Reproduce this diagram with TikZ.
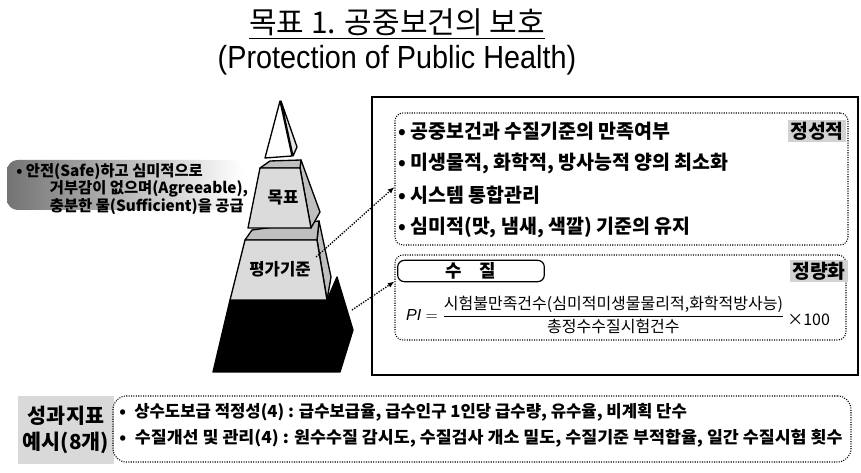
\documentclass[tikz,border=0pt]{standalone}
\usepackage{amsmath}
\usepackage{fontspec}
\setmainfont{Liberation Sans}
\newfontfamily\kr{Noto Sans CJK KR}
\newfontfamily\krb{Noto Sans CJK KR Black}
\usetikzlibrary{positioning, fit, arrows.meta}
\tikzset{x=0.75pt, y=-0.75pt, % one unit is one pixel, y runs downwards
face/.style={ % faces of the pyramid
draw, line width=1pt, line join=round, fill=gray!28},
side/.style={face, fill=gray!50},
dotbox/.style={draw, densely dotted, line width=0.8pt, rounded corners=6pt, inner sep=0pt},
tag/.style={fill=gray!35, inner sep=1.5pt, font=\krb\fontsize{14.5}{14.5}\selectfont},
item/.style={anchor=west, inner sep=0pt, font=\krb\fontsize{14.6}{16}\selectfont},
link/.style={draw, densely dotted, line width=1pt, -{Latex[length=5pt,width=4pt]}}}

\begin{document}
\begin{tikzpicture}
    \useasboundingbox (0,0) rectangle (861,473);

    % heading
    \node[inner sep=0, font=\kr\fontsize{22.5}{22.5}\selectfont] (title) at (397,22) {목표 1. 공중보건의 보호};
    \draw[line width=1pt] ([yshift=-4pt]title.base west) -- ([yshift=-4pt]title.base east);
    \node[inner sep=0, font=\fontsize{24}{24}\selectfont] (sub) at (397,60) {\scalebox{0.9}[1]{(Protection of Public Health)}};

    % pyramid
    \draw[side, fill=gray!20] (281,101) -- (297,147) -- (293,156) -- cycle;
    \draw[face, fill=white] (280,101) -- (292,156) -- (265,158) -- cycle;
    \draw[face, fill=black] (230,300) -- (327,300) -- (337,277) -- (353,330) -- (340,372) -- (213,372) -- cycle;
    \draw[side] (317,240) -- (319,221) -- (331,277) -- (327,300) -- cycle;
    \draw[side] (245,240) -- (252,230) -- (319,221) -- (317,240) -- cycle;
    \draw[face] (245,240) -- (317,240) -- (327,300) -- (230,300) -- cycle;
    \draw[side] (300,168) -- (301,160) -- (320,212) -- (311,228) -- cycle;
    \draw[side] (260,168) -- (270,161) -- (301,160) -- (300,168) -- cycle;
    \draw[face] (260,168) -- (300,168) -- (311,228) -- (248,228) -- cycle;
    \node[font=\krb\fontsize{12.5}{12.5}\selectfont] (goal) at (283,198) {목표};
    \node[font=\krb\fontsize{12.5}{12.5}\selectfont] (crit) at (280,269) {평가기준};
    \coordinate (critout) at (316,257);
    \coordinate (baseout) at (352,310);

    % aim of the goal
    \shade[rounded corners=8pt, left color=black!55, right color=white] (7,160) rectangle (243,210);
    \node[anchor=north west, inner sep=0, align=left, font=\krb\fontsize{11.5}{11.8}\selectfont] (aim) at (16,163)
        {• 안전(Safe)하고 심미적으로\\ \hspace*{2.2em}거부감이 없으며(Agreeable),\\ \hspace*{2.2em}충분한 물(Sufficient)을 공급};

    % criteria
    \node[draw, line width=0.9pt, inner sep=0, fit={(372,97) (858,375)}] (frame) {};
    \node[dotbox, fit={(395,113) (848,245)}] (qual) {};
    \node[dotbox, fit={(395,255) (846,340)}] (quant) {};

    \node[item] (q1) at (398,131) {• 공중보건과 수질기준의 만족여부};
    \node[item, below=24pt of q1.west, anchor=west] (q2) {• 미생물적, 화학적, 방사능적 양의 최소화};
    \node[item, below=24pt of q2.west, anchor=west] (q3) {• 시스템 통합관리};
    \node[item, below=24pt of q3.west, anchor=west] (q4) {• 심미적(맛, 냄새, 색깔) 기준의 유지};
    \node[tag] (qualtag) at (817,131) {정성적};

    \node[draw, line width=0.9pt, rounded corners=5pt, minimum width=110pt, minimum height=16pt, inner sep=0,
        font=\krb\fontsize{13.4}{13.4}\selectfont] (wq) at (471,271) {수\quad 질};
    \node[tag] (quanttag) at (819,271) {정량화};
    \node[inner sep=0, font=\kr\fontsize{12}{13}\selectfont] (pi) at (618,315)
        {$\mathit{PI}=\dfrac{\mbox{시험불만족건수(심미적미생물물리적,화학적방사능)}}{\mbox{총정수수질시험건수}}$\raisebox{-4pt}{\,×100}};

    \draw (critout) edge[link] ([yshift=-6pt]qual.west);
    \draw (baseout) edge[link] ([yshift=12pt]quant.west);

    % indicators
    \node[fill=gray!30, minimum width=65pt, minimum height=51pt, align=center,
        font=\krb\fontsize{15.5}{19.5}\selectfont] (ex) at (66,430) {성과지표\\예시(8개)};
    \node[dotbox, rounded corners=10pt, fit={(113,396) (851,462)}] (ind) {};
    \node[item, font=\krb\fontsize{12.5}{14}\selectfont] (i1) at (119,412)
        {•\enspace 상수도보급 적정성(4) : 급수보급율, 급수인구 1인당 급수량, 유수율, 비계획 단수};
    \node[item, font=\krb\fontsize{12.5}{14}\selectfont, below=19.5pt of i1.west, anchor=west] (i2)
        {\scalebox{1.04}[1]{•\enspace 수질개선 및 관리(4) : 원수수질 감시도, 수질검사 개소 밀도, 수질기준 부적합율, 일간 수질시험 횟수}};
\end{tikzpicture}
\end{document}
